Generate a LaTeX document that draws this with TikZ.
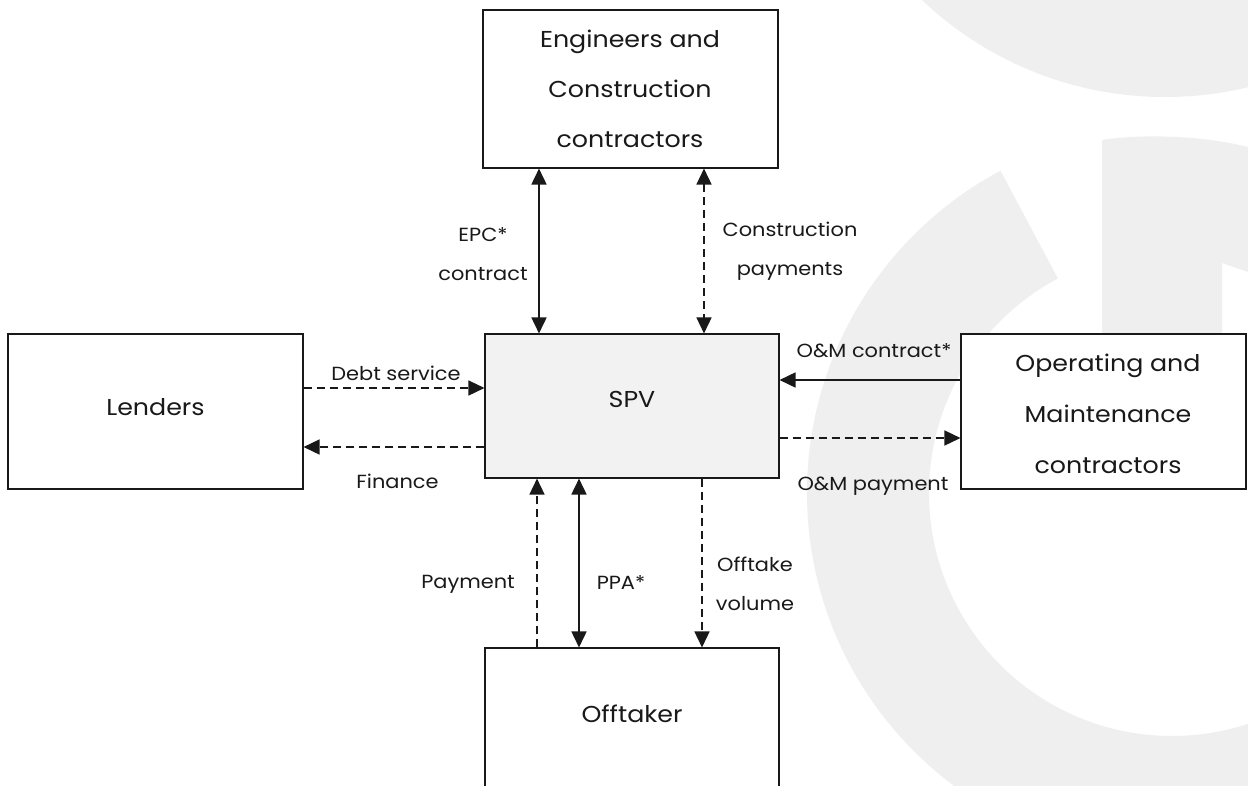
\documentclass[tikz,border=0pt]{standalone}
\usepackage{fontspec}
\setmainfont{Poppins}[FakeStretch=1.1]
\usetikzlibrary{arrows.meta}
\definecolor{wmgrey}{RGB}{239,239,239}
\definecolor{spvgrey}{RGB}{242,242,242}
\definecolor{ink}{RGB}{25,25,25}
\begin{document}
\begin{tikzpicture}[x=1pt,y=-1pt,
  box/.style={draw=ink, line width=1.1pt, fill=white, inner sep=0pt, rectangle},
  boxtext/.style={font=\fontsize{23}{50}\selectfont, align=center, text=ink, inner sep=0pt},
  lbl/.style={font=\fontsize{19}{39}\selectfont, align=center, text=ink, inner sep=0pt},
  solidline/.style={draw=ink, line width=1.7pt},
  dashline/.style={draw=ink, line width=1.5pt, dash pattern=on 8pt off 5pt},
  tipend/.style={-{Triangle[length=16pt,width=15pt]}},
  tipboth/.style={{Triangle[length=16pt,width=15pt]}-{Triangle[length=16pt,width=15pt]}},
]
\path[use as bounding box] (0,0) rectangle (1248,785);
\clip (0,0) rectangle (1248,785);
\fill[white] (0,0) rectangle (1248,785);

% watermark
\fill[wmgrey] (1165,-256) circle[radius=353];
\begin{scope}
  \clip (1172,493) -- (890,-37) -- (-10,-37) -- (-10,900) -- (1400,900) -- (1400,493) -- cycle;
  \fill[wmgrey, even odd rule] (1172,493) circle[radius=365] (1172,493) circle[radius=243];
\end{scope}
\fill[wmgrey] (1102,140) .. controls (1140,134) and (1200,135) .. (1248,147) -- (1248,272) -- (1222,263) -- (1222,430) -- (1102,430) -- cycle;

% boxes
\node[box, minimum width=295pt, minimum height=158pt] (ec) at (630.5,89) {};
\node[box, fill=spvgrey, minimum width=294pt, minimum height=144pt] (spv) at (632,406) {};
\node[box, minimum width=295pt, minimum height=155pt] (lenders) at (155.5,411.5) {};
\node[box, minimum width=285pt, minimum height=155pt] (om) at (1103.5,411.5) {};
\node[box, minimum width=294pt, minimum height=155pt] (off) at (632,725.5) {};

% box texts (base = baseline of last line)
\node[boxtext, anchor=base] (ect) at (630,147) {Engineers and\\Construction\\contractors};
\node[boxtext, anchor=base] (spvt) at (632,407) {SPV};
\node[boxtext, anchor=base] (lenderst) at (155.5,415) {Lenders};
\node[boxtext, anchor=base, font=\fontsize{23}{51}\selectfont] (omt) at (1108,473) {Operating and\\Maintenance\\contractors};
\node[boxtext, anchor=base] (offt) at (632,722) {Offtaker};

% connectors
\draw[solidline, tipboth] ([xshift=-91.5pt]ec.south) -- ([xshift=-93pt]spv.north);
\draw[dashline, tipboth] ([xshift=73.5pt]ec.south) -- ([xshift=72pt]spv.north);
\draw[dashline, tipend] ([yshift=23.5pt]lenders.east) -- ([yshift=18pt]spv.west);
\draw[dashline, tipend] ([yshift=-41pt]spv.west) -- ([yshift=-35.5pt]lenders.east);
\draw[solidline, tipend] ([yshift=31.5pt]om.west) -- ([yshift=26pt]spv.east);
\draw[dashline, tipend] ([yshift=-32pt]spv.east) -- ([yshift=-26.5pt]om.west);
\draw[dashline, tipend] ([xshift=-95pt]off.north) -- ([xshift=-95pt]spv.south);
\draw[solidline, tipboth] ([xshift=-53pt]spv.south) -- ([xshift=-53pt]off.north);
\draw[dashline, tipend] ([xshift=70pt]spv.south) -- ([xshift=70pt]off.north);

% labels
\node[lbl, anchor=base] (l-epc) at (483,280) {EPC*\\contract};
\node[lbl, anchor=base] (l-cp) at (790,275) {Construction\\payments};
\node[lbl, anchor=base] (l-debt) at (396,380) {Debt service};
\node[lbl, anchor=base] (l-fin) at (397.5,488) {Finance};
\node[lbl, anchor=base] (l-omc) at (874,357) {O\&M contract*};
\node[lbl, anchor=base] (l-omp) at (873,490) {O\&M payment};
\node[lbl, anchor=base] (l-pay) at (468,588) {Payment};
\node[lbl, anchor=base] (l-ppa) at (621,589) {PPA*};
\node[lbl, anchor=base] (l-offv) at (755,610) {Offtake\\volume};
\end{tikzpicture}
\end{document}
